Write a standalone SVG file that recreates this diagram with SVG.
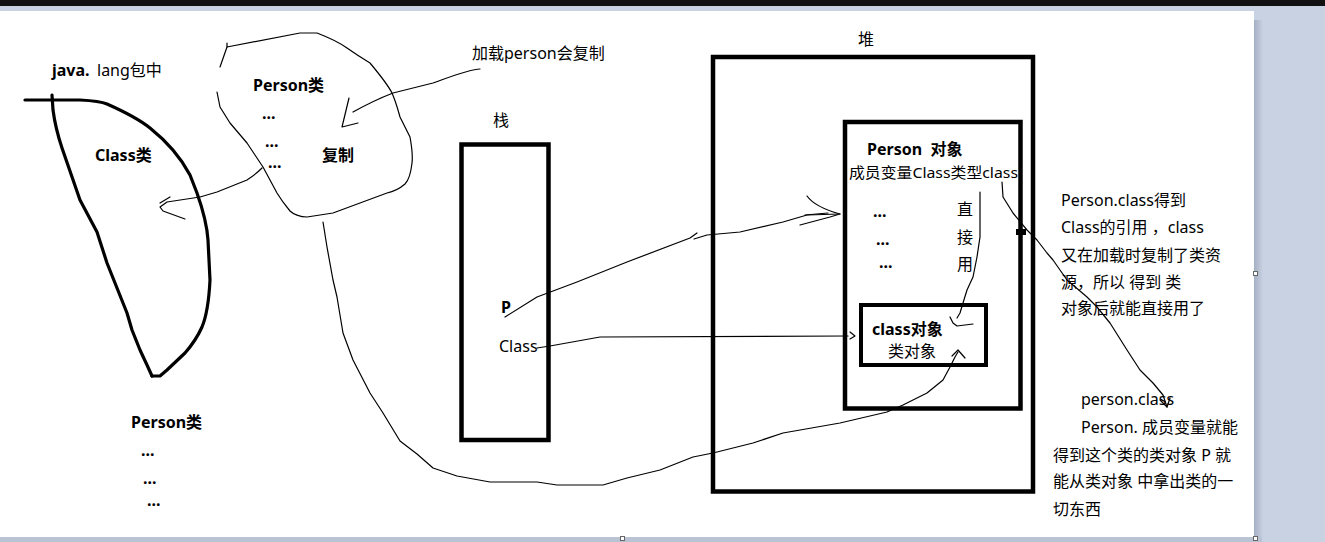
<svg xmlns="http://www.w3.org/2000/svg" width="1325" height="542" viewBox="0 0 1325 542">
<defs>
<linearGradient id="shR" x1="0" y1="0" x2="1" y2="0"><stop offset="0" stop-color="#a3afc3"/><stop offset="1" stop-color="#c9d2e2"/></linearGradient>
<style>
text{font-family:"Noto Sans","Noto Sans CJK SC",sans-serif;font-size:16px;fill:#000}
.b{font-weight:bold}
.thin{fill:none;stroke:#000;stroke-width:1.2;stroke-linejoin:round;stroke-linecap:round}
.thick{fill:none;stroke:#000;stroke-width:3.2;stroke-linejoin:round;stroke-linecap:round}
.box{fill:none;stroke:#000}
.h{fill:#fff;stroke:#666;stroke-width:1}
</style>
</defs>
<rect x="0" y="0" width="1325" height="542" fill="#c9d2e2"/>
<rect x="0" y="0" width="1325" height="6" fill="#111"/>
<rect x="1254" y="20" width="9" height="517" fill="url(#shR)"/>
<rect x="0" y="537" width="1262" height="5" fill="#b9c3d4"/>
<rect x="0" y="11" width="1254" height="526" fill="#fff"/>

<g id="class-region">
<path class="thick" d="M25,100 L80,100 Q100,101 107,104 C125,112 140,120 150,128 C165,140 180,156 190,175 L197,193 C203,210 207,225 208,240 L210,280 C209,300 207,315 202,327 C198,336 192,345 185,353 L167,370 L160,376 L152,376"/>
<path class="thick" d="M52,95 L53,110 C55,125 58,136 62,148 L80,200 L97,232 L107,263 L127,313 L132,330 L140,350 L147,365 L152,376"/>
<text x="52" y="76" class="b">java.</text>
<text x="97" y="76">lang包中</text>
<text x="95" y="161" class="b">Class类</text>
</g>

<g id="person-cloud">
<path class="thin" d="M227,43 L227,47 L300,33 L317,33 C330,38 340,43 347,48 C357,55 365,60 370,63 C380,75 388,85 392,93 C396,102 398,110 400,117 L410,137 C412,148 413,155 412,163 C411,172 409,180 405,184 C398,190 392,192 387,193 L360,203 L333,213 L307,217 C300,217 293,214 290,211 C285,205 280,198 277,193 L263,167 L247,143 L230,123 L220,107 L217,92"/>
<path class="thin" d="M227,47 L220,67"/>
<text x="253" y="91" class="b">Person类</text>
<text x="262" y="119" class="b">...</text>
<text x="265" y="147" class="b">...</text>
<text x="268" y="168" class="b">...</text>
<text x="322" y="161" class="b">复制</text>
</g>

<g id="load-note">
<text x="472" y="59">加载person会复制</text>
</g>

<g id="stack">
<rect class="box" x="461.5" y="144.5" width="87" height="295.5" stroke-width="4.5"/>
<text x="493" y="126">栈</text>
<text x="501" y="313" class="b">P</text>
<text x="499" y="352">Class</text>
</g>

<g id="heap">
<rect class="box" x="713" y="57" width="320" height="434.5" stroke-width="4.5"/>
<text x="858" y="45">堆</text>
</g>

<g id="person-object">
<rect class="box" x="845" y="122" width="175.5" height="286.5" stroke-width="4.5"/>
<text x="867" y="155" class="b">Person&#160;&#160;对象</text>
<text x="849" y="178" style="font-size:14.5px" textLength="169" lengthAdjust="spacingAndGlyphs">成员变量Class类型class</text>
<text x="873" y="217" class="b">...</text>
<text x="876" y="245" class="b">...</text>
<text x="879" y="268" class="b">...</text>
<text x="957" y="215">直</text>
<text x="957" y="243">接</text>
<text x="957" y="270">用</text>
<rect x="1016" y="229" width="10" height="6" fill="#000"/>
</g>

<g id="class-object">
<rect class="box" x="861" y="305" width="125" height="60" stroke-width="4"/>
<text x="872" y="335" class="b">class对象</text>
<text x="888" y="357">类对象</text>
</g>

<g id="note-right">
<text x="1061" y="206">Person.class得到</text>
<text x="1061" y="233">Class的引用 ，class</text>
<text x="1061" y="261">又在加载时复制了类资</text>
<text x="1061" y="288">源，所以 得到 类</text>
<text x="1061" y="314">对象后就能直接用了</text>
</g>

<g id="note-bottom">
<text x="1081" y="405">person.class</text>
<text x="1081" y="433">Person. 成员变量就能</text>
<text x="1053" y="461">得到这个类的类对象 P 就</text>
<text x="1053" y="487">能从类对象 中拿出类的一</text>
<text x="1053" y="515">切东西</text>
</g>

<g id="person-class-copy">
<text x="131" y="428" class="b">Person类</text>
<text x="141" y="456" class="b">...</text>
<text x="143" y="484" class="b">...</text>
<text x="147" y="506" class="b">...</text>
</g>

<g id="connectors">
<path class="thin" d="M480,69 C470,69 450,77 433,83 L393,93 C375,100 362,107 353,112"/>
<path class="thin" d="M349,98 L342,127 L358,123"/>
<path class="thin" d="M262,168 C255,175 250,178 247,180 L217,192 L200,197 L167,202 L160,207 L163,211 L185,219"/>
<path class="thin" d="M160,203 L170,197"/>
<path class="thin" d="M323,222 L327,247 L333,280 L337,297 L343,333 L353,360 L370,393 L383,413 L400,441 L417,454 L433,468 L457,476 L490,482 L537,482 L557,485 L603,485 L627,478 L660,470 L693,457 L713,453 L753,443 L783,433 L840,423 L887,412 L903,405 L927,393 L943,380 L950,367 L955,357 L958,352"/>
<path class="thin" d="M952,356 L958,350 L965,358"/>
<path class="thin" d="M505,317 L537,297 L577,282 L627,262 L690,238 L697,233 M694,239 L707,235 L740,232 L783,222 L807,215 L840,214"/>
<path class="thin" d="M807,196 C812,203 822,209 840,214 M800,225 L830,217 L840,214 M805,215 L828,213"/>
<path class="thin" d="M537,348 L550,346 L600,337 L848,336"/>
<path class="thin" d="M850,332 L855,336 L850,339"/>
<path class="thin" d="M980,192 L980,237 L977,257 L973,277 L967,290 L963,303 L960,313 L957,318"/>
<path class="thin" d="M950,317 L953,323 L957,326 L973,324"/>
<path class="thin" d="M1002,182 L1003,197 L1013,213 L1027,230 L1037,240 L1047,253 L1053,260 L1067,280 L1087,297 L1097,307 L1110,323 L1127,350 L1140,370 L1153,383 L1163,395 L1167,407"/>
<path class="thin" d="M1160,400 L1167,407 L1170,398"/>
</g>

<rect class="h" x="1253.5" y="271.5" width="4" height="4"/>
<rect class="h" x="1253.5" y="536.5" width="4" height="4"/>
<rect class="h" x="620.5" y="536.5" width="4" height="4"/>
</svg>
